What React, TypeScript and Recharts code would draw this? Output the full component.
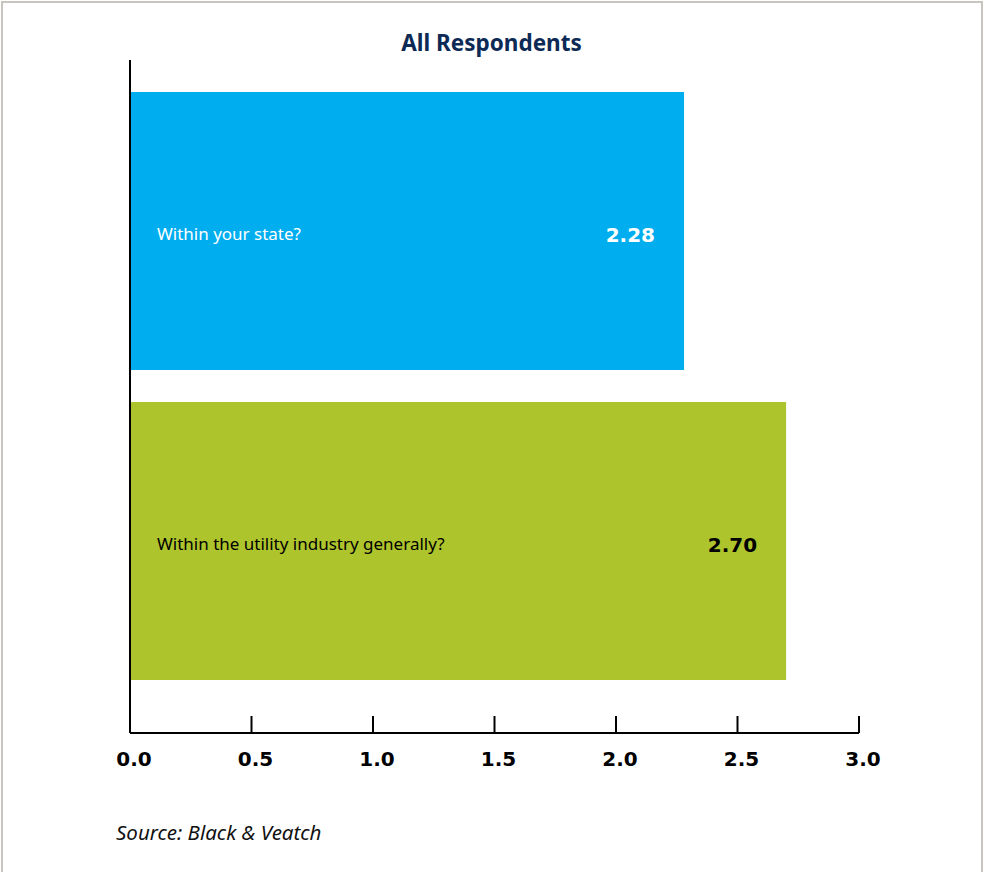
import React from 'react';
import { BarChart, Bar, XAxis, YAxis, LabelList, Cell } from 'recharts';

const CATEGORIES = ['Within your state?', 'Within the utility industry generally?'];
const VALUES = [2.28, 2.7];
const BAR_COLORS = ['#00aeef', '#aec42c'];
const TEXT_COLORS = ['#ffffff', '#000000'];
const X_TICKS = [0, 0.5, 1, 1.5, 2, 2.5, 3];

const data = CATEGORIES.map((name, i) => ({ name, value: VALUES[i] }));

const FONT = '"Noto Sans", "Open Sans", sans-serif';
const NUM_FONT = '"DejaVu Sans", "Noto Sans", sans-serif';

const BottomTick = (props: any) => {
  const { x, y, payload } = props;
  return (
    <g>
      <line x1={x} x2={x} y1={y - 17} y2={y} stroke="#000" strokeWidth={2} />
      <text x={x + 4} y={y + 33} textAnchor="middle" fontSize={20} fontWeight={700} fill="#000" fontFamily={NUM_FONT}>
        {Number(payload.value).toFixed(1)}
      </text>
    </g>
  );
};

const NameLabel = (props: any) => {
  const { x, y, height, value, index } = props;
  return (
    <text x={x + 27} y={y + height / 2} dy={9} fontSize={17} fill={TEXT_COLORS[index]} fontFamily={FONT}>
      {value}
    </text>
  );
};

const ValueLabel = (props: any) => {
  const { x, y, width, height, value, index } = props;
  return (
    <text x={x + width - 29} y={y + height / 2} dy={11} textAnchor="end" fontSize={20} fontWeight={700}
      fill={TEXT_COLORS[index]} fontFamily={NUM_FONT}>
      {Number(value).toFixed(2)}
    </text>
  );
};

export default function App() {
  return (
    <div style={{ position: 'absolute', left: 0, top: 0, width: 983, height: 872, overflow: 'hidden', background: '#fff', fontFamily: FONT }}>
      <div style={{ position: 'absolute', left: 1, top: 1, width: 982, height: 900, border: '2px solid #c8c5bf', boxSizing: 'border-box' }} />
      <div style={{ position: 'absolute', left: 0, top: 27, width: 983, textAlign: 'center', fontSize: 22.5, fontWeight: 700, color: '#0c2a55' }}>
        All Respondents
      </div>
      <div style={{ position: 'absolute', left: 0, top: 0 }}>
        <BarChart
          width={983}
          height={872}
          data={data}
          layout="vertical"
          margin={{ top: 60, right: 124, bottom: 89, left: 125 }}
          barCategoryGap={16}
        >
          <XAxis
            type="number"
            domain={[0, 3]}
            ticks={X_TICKS}
            height={50}
            tickSize={0}
            tickMargin={0}
            tickLine={false}
            axisLine={{ stroke: '#000', strokeWidth: 2 }}
            tick={<BottomTick />}
            interval={0}
          />
          <YAxis
            type="category"
            dataKey="name"
            width={5}
            tick={false}
            tickLine={false}
            padding={{ top: 16, bottom: 37 }}
            axisLine={{ stroke: '#000', strokeWidth: 2 }}
          />
          <Bar dataKey="value" isAnimationActive={false}>
            {data.map((d, i) => (
              <Cell key={d.name} fill={BAR_COLORS[i]} />
            ))}
            <LabelList dataKey="name" content={<NameLabel />} />
            <LabelList dataKey="value" content={<ValueLabel />} />
          </Bar>
        </BarChart>
      </div>
      <div style={{ position: 'absolute', left: 116, top: 818, fontSize: 20.5, fontStyle: 'italic', color: '#111' }}>
        Source: Black &amp; Veatch
      </div>
    </div>
  );
}
